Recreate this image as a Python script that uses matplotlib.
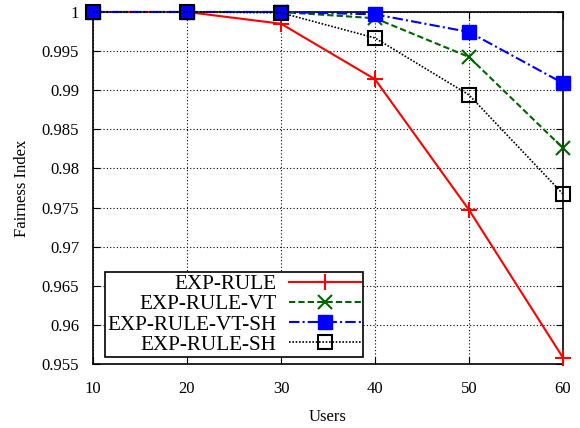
import matplotlib
matplotlib.use("Agg")
import matplotlib.pyplot as plt

users = [10, 20, 30, 40, 50, 60]
exp_rule = [1.0, 1.0, 0.9985, 0.9914, 0.9747, 0.9558]
exp_rule_vt = [1.0, 1.0, 1.0, 0.9992, 0.99425, 0.9826]
exp_rule_vt_sh = [1.0, 1.0, 1.0, 0.9997, 0.99744, 0.9909]
exp_rule_sh = [1.0, 1.0, 0.9999, 0.99668, 0.9894, 0.97673]
labels = ["EXP-RULE", "EXP-RULE-VT", "EXP-RULE-VT-SH", "EXP-RULE-SH"]
yticks = [0.955, 0.96, 0.965, 0.97, 0.975, 0.98, 0.985, 0.99, 0.995, 1]
ytick_labels = ["0.955", "0.96", "0.965", "0.97", "0.975", "0.98", "0.985", "0.99", "0.995", "1"]

plt.rcParams['font.family'] = ['Liberation Serif', 'DejaVu Serif']
fig = plt.figure(figsize=(5.8, 4.28), dpi=100)
ax = fig.add_axes([0.1603, 0.1495, 0.9707 - 0.1603, 0.972 - 0.1495])

ax.plot(users, exp_rule, color='#ff0000', linestyle='-', linewidth=1.5,
        marker='+', markersize=12, markeredgewidth=1.5, label=labels[0], clip_on=False, zorder=3)
ax.plot(users, exp_rule_vt, color='#006400', linestyle=(0, (3, 1.5)), linewidth=1.5,
        marker='x', markersize=10, markeredgewidth=1.5, label=labels[1], clip_on=False, zorder=3)
ax.plot(users, exp_rule_vt_sh, color='#0000ff', linestyle=(0, (5, 1.5, 1, 1.5)), linewidth=1.5,
        marker='s', markersize=10, markerfacecolor='#0000ff', markeredgecolor='#0000ff',
        label=labels[2], clip_on=False, zorder=3)
ax.plot(users, exp_rule_sh, color='black', linestyle=(0, (1, 1)), linewidth=1.2,
        marker='s', markersize=10, markerfacecolor='none', markeredgecolor='black',
        markeredgewidth=1.5, label=labels[3], clip_on=False, zorder=3)

ax.set_xlim(10, 60)
ax.set_ylim(0.955, 1.0)
ax.set_xticks(users)
ax.set_yticks(yticks)
ax.set_yticklabels(ytick_labels)
ax.tick_params(direction='in', top=True, right=True, labelsize=12, length=5)
ax.tick_params(axis='y', pad=10)
ax.tick_params(axis='x', pad=12)
ax.grid(True, color='black', linestyle=(0, (1, 2)), linewidth=0.8)
for s in ax.spines.values():
    s.set_linewidth(1.2)
ax.set_xlabel("Users", fontsize=12, labelpad=9)
ax.set_ylabel("Fairness Index", fontsize=12, labelpad=8)

leg = ax.legend(loc='lower left', bbox_to_anchor=(0.026, 0.02), borderaxespad=0,
                markerfirst=False, fontsize=15.2, frameon=True,
                fancybox=False, edgecolor='black', framealpha=1,
                handlelength=3.4, labelspacing=0.02,
                handletextpad=0.6, borderpad=0.1)
leg.get_frame().set_linewidth(1.2)
leg.set_zorder(5)
fig.savefig("out.png", dpi=100)
